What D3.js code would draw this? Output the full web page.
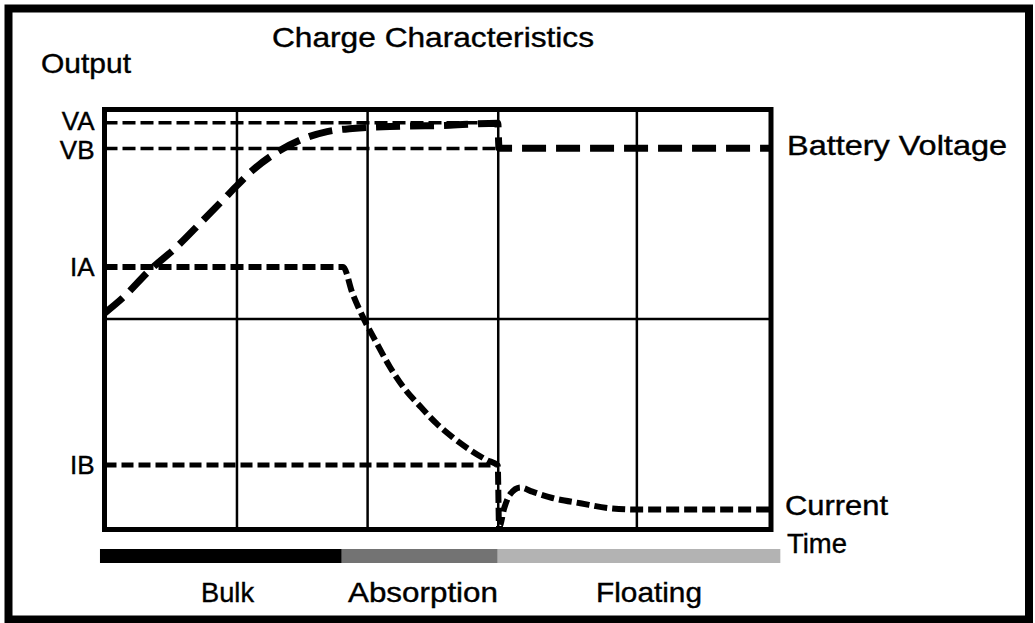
<!DOCTYPE html>
<html>
<head>
<meta charset="utf-8">
<script src="https://cdn.jsdelivr.net/npm/d3@7"></script>
<style>
body { margin: 0; background: #fff; }
text { font-family: "Liberation Sans", Arial, sans-serif; fill: #000; stroke: #000; stroke-width: 0.4; }
</style>
</head>
<body>
<div id="chart"></div>
<script>
// level markers on the output axis
var levelNames = ["VA", "VB", "IA", "IB"]
var levelValues = [3.874, 3.629, 2.5, 0.614]

// grid
var gridTimes = [0.99, 1.97, 2.95, 3.99]
var gridOutputs = [2.01]

// battery voltage curve
var voltageT = [0, 0.14, 0.34, 0.54, 0.72, 0.89, 0.99, 1.11, 1.29, 1.47, 1.67, 1.86, 2.22, 2.59, 2.95, 2.96, 5.0]
var voltageV = [2.06, 2.21, 2.47, 2.69, 2.92, 3.14, 3.27, 3.42, 3.59, 3.71, 3.79, 3.82, 3.84, 3.85, 3.87, 3.63, 3.63]

// charge current curve
var currentT = [0, 1.79, 1.86, 1.94, 2.04, 2.14, 2.24, 2.37, 2.49, 2.61, 2.74, 2.87, 2.95, 2.96, 3.0, 3.04, 3.12, 3.21, 3.36, 3.57, 3.81, 3.99, 5.0]
var currentI = [2.5, 2.5, 2.25, 2.02, 1.78, 1.55, 1.36, 1.17, 1.01, 0.88, 0.76, 0.66, 0.61, 0.02, 0.21, 0.33, 0.40, 0.36, 0.30, 0.25, 0.20, 0.19, 0.19]

// charging phases
var phaseNames = ["Bulk", "Absorption", "Floating"]
var phaseEdges = [-0.034, 1.78, 2.95, 5.07]
var phaseColors = ["#000000", "#737373", "#b3b3b3"]

var W = 1035, H = 623

var svg = d3.select('#chart').append('svg')
  .attr('width', W)
  .attr('height', H)

var x = d3.scaleLinear().domain([0, 5]).range([104.5, 771])
var y = d3.scaleLinear().domain([0, 4]).range([529.5, 109.5])

// outer frame
svg.append('rect')
  .attr('x', 8.5).attr('y', 8.5)
  .attr('width', 1020.5).attr('height', 611)
  .attr('fill', 'none').attr('stroke', '#000').attr('stroke-width', 8)

// grid lines via axes
svg.append('g')
  .attr('transform', `translate(0,${y(0)})`)
  .call(d3.axisBottom(x).tickValues(gridTimes).tickSize(-(y(0) - y(4))).tickFormat(''))
  .call(g => g.select('.domain').remove())
  .call(g => g.selectAll('.tick line').attr('stroke', '#000').attr('stroke-width', 2.5))

svg.append('g')
  .attr('transform', `translate(${x(0)},0)`)
  .call(d3.axisLeft(y).tickValues(gridOutputs).tickSize(-(x(5) - x(0))).tickFormat(''))
  .call(g => g.select('.domain').remove())
  .call(g => g.selectAll('.tick line').attr('stroke', '#000').attr('stroke-width', 2.5))

// level labels as the y axis
var labelShift = [-2, 2, 0, 0]
svg.append('g')
  .attr('transform', `translate(${x(0)},0)`)
  .call(d3.axisLeft(y).tickValues(levelValues).tickSize(0).tickPadding(10)
    .tickFormat((d, i) => levelNames[i]))
  .call(g => g.select('.domain').remove())
  .call(g => g.selectAll('.tick text')
    .attr('font-family', '"Liberation Sans", Arial, sans-serif')
    .attr('font-size', 26).attr('fill', '#000')
    .attr('y', (d, i) => labelShift[i]))

// reference lines VA, VB (thin) and IB
var refLine = d3.line().x(d => x(d[0])).y(d => y(d[1]))
;[0, 1].forEach(function(i) {
  svg.append('path')
    .attr('d', refLine([[0, levelValues[i]], [2.95, levelValues[i]]]))
    .attr('stroke', '#000').attr('stroke-width', 3.5)
    .attr('stroke-dasharray', '13,5').attr('fill', 'none')
})
svg.append('path')
  .attr('d', refLine([[0, levelValues[3]], [2.95, levelValues[3]]]))
  .attr('stroke', '#000').attr('stroke-width', 5)
  .attr('stroke-dasharray', '12,5').attr('fill', 'none')

var curveLine = d3.line()
  .x(d => x(d.t))
  .y(d => y(d.v))
  .curve(d3.curveMonotoneX)

var voltage = voltageT.map((t, i) => ({t: t, v: voltageV[i]}))
var current = currentT.map((t, i) => ({t: t, v: currentI[i]}))

svg.append('path')
  .attr('d', curveLine(voltage))
  .attr('stroke', '#000').attr('stroke-width', 7)
  .attr('stroke-dasharray', '24,10').attr('fill', 'none')

svg.append('path')
  .attr('d', curveLine(current))
  .attr('stroke', '#000').attr('stroke-width', 6)
  .attr('stroke-dasharray', '13,5').attr('fill', 'none')

// plot box
svg.append('rect')
  .attr('x', x(0)).attr('y', y(4))
  .attr('width', x(5) - x(0)).attr('height', y(0) - y(4))
  .attr('fill', 'none').attr('stroke', '#000').attr('stroke-width', 5)

// phase bar
svg.selectAll('.phase').data(phaseNames).enter().append('rect')
  .attr('class', 'phase')
  .attr('x', (d, i) => x(phaseEdges[i]))
  .attr('y', 549)
  .attr('width', (d, i) => x(phaseEdges[i + 1]) - x(phaseEdges[i]))
  .attr('height', 14)
  .attr('fill', (d, i) => phaseColors[i])

function label(txt, px, py, w) {
  var t = svg.append('text')
    .attr('x', px).attr('y', py)
    .attr('font-size', 28)
    .text(txt)
  if (w) t.attr('textLength', w).attr('lengthAdjust', 'spacingAndGlyphs')
  return t
}

label('Charge Characteristics', 272, 47, 322)
label('Output', 41, 73, 90)
label('Battery Voltage', 787, 155, 220)
label('Current', 785, 515, 103)
label('Time', 787, 553, 60)

var phaseLabelX = [201, 348, 596]
var phaseLabelW = [53, 150, 106]
phaseNames.forEach(function(n, i) {
  label(n, phaseLabelX[i], 602, phaseLabelW[i])
})
</script>
</body>
</html>
